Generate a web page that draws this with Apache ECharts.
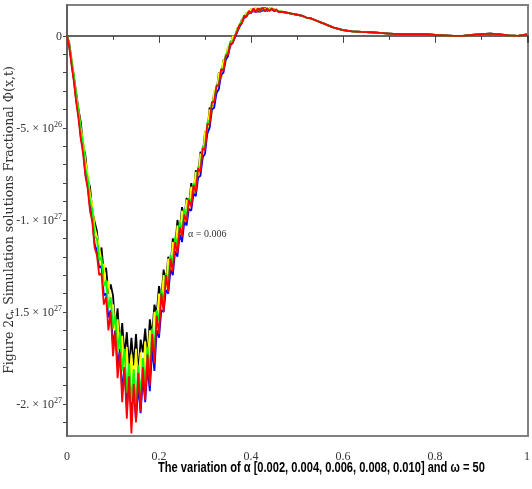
<!DOCTYPE html>
<html>
<head>
<meta charset="utf-8">
<script src="https://cdn.jsdelivr.net/npm/echarts@6/dist/echarts.min.js"></script>
<style>
  html, body { margin: 0; padding: 0; background: #fff; }
  #chart { width: 532px; height: 489px; }
</style>
</head>
<body>
<div id="chart"></div>
<script>
// values are in units of 1e26
const xs = [
  0, 0.005, 0.01, 0.015, 0.02, 0.025, 0.03, 0.035, 0.04, 0.045,
  0.05, 0.055, 0.06, 0.065, 0.07, 0.075, 0.08, 0.085, 0.09, 0.095,
  0.1, 0.105, 0.11, 0.115, 0.12, 0.125, 0.13, 0.135, 0.14, 0.145,
  0.15, 0.155, 0.16, 0.165, 0.17, 0.175, 0.18, 0.185, 0.19, 0.195,
  0.2, 0.205, 0.21, 0.215, 0.22, 0.225, 0.23, 0.235, 0.24, 0.245,
  0.25, 0.255, 0.26, 0.265, 0.27, 0.275, 0.28, 0.285, 0.29, 0.295,
  0.3, 0.305, 0.31, 0.315, 0.32, 0.325, 0.33, 0.335, 0.34, 0.345,
  0.35, 0.355, 0.36, 0.365, 0.37, 0.375, 0.38, 0.385, 0.39, 0.395,
  0.4, 0.405, 0.41, 0.415, 0.42, 0.425, 0.43, 0.435, 0.44, 0.445,
  0.45, 0.455, 0.46
]

const blackVals = [
  0, -0.4, -1.3, -2.2, -3.1, -4.0, -4.7, -5.9, -6.5, -7.8,
  -8.2, -9.5, -10.1, -10.6, -11.9, -11.5, -12.9, -12.6, -14.0, -13.5,
  -14.1, -15.9, -14.8, -16.9, -15.6, -17.4, -16.1, -18.0, -16.4, -17.9,
  -16.2, -18.4, -16.5, -17.2, -15.9, -17.6, -15.4, -16.3, -14.6, -15.1,
  -13.6, -14.3, -12.7, -13.4, -12.0, -12.6, -11.0, -11.6, -10.0, -10.6,
  -9.3, -9.9, -8.8, -9.3, -8.0, -8.6, -7.3, -7.6, -6.3, -6.5,
  -5.2, -5.3, -3.9, -4.1, -3.0, -3.1, -2.0, -2.3, -1.3, -1.4,
  -0.6, -0.6, 0.0, -0.1, 0.4, 0.5, 0.9, 0.9, 1.25, 1.2,
  1.45, 1.3, 1.5, 1.3, 1.5, 1.35, 1.55, 1.35, 1.5, 1.4,
  1.45, 1.35, 1.35
]

const yellowVals = [
  0, -0.5, -1.3, -2.3, -3.2, -4.1, -5.0, -5.7, -6.8, -7.5,
  -8.6, -9.2, -10.4, -10.9, -11.4, -12.5, -12.4, -13.9, -13.3, -14.8,
  -14.6, -16.2, -15.4, -17.5, -16.3, -18.5, -16.9, -19.2, -17.3, -19.0,
  -17.0, -18.9, -17.2, -18.6, -16.6, -17.9, -16.0, -16.9, -15.0, -15.6,
  -14.0, -14.6, -13.0, -13.7, -12.1, -12.8, -11.2, -11.9, -10.3, -10.9,
  -9.5, -10.1, -8.9, -9.4, -8.2, -8.5, -7.4, -7.8, -6.4, -6.8,
  -5.2, -5.4, -4.0, -4.3, -2.9, -3.2, -2.0, -2.3, -1.3, -1.5,
  -0.5, -0.7, 0.0, -0.1, 0.4, 0.4, 0.9, 0.9, 1.25, 1.2,
  1.45, 1.3, 1.5, 1.35, 1.45, 1.4, 1.5, 1.4, 1.5, 1.4,
  1.45, 1.35, 1.35
]

const blueVals = [
  0, -0.6, -1.5, -2.4, -3.5, -4.3, -5.5, -6.2, -7.5, -8.1,
  -9.3, -9.9, -11.3, -11.7, -12.6, -12.5, -14.1, -14.0, -15.3, -14.9,
  -16.8, -16.0, -18.0, -17.0, -19.3, -18.0, -20.2, -18.8, -20.6, -19.2,
  -20.9, -19.0, -20.5, -18.6, -19.9, -18.0, -19.3, -17.0, -18.2, -16.0,
  -16.4, -14.9, -15.0, -13.8, -14.0, -12.7, -13.0, -11.7, -12.0, -10.8,
  -11.2, -10.1, -10.3, -9.4, -9.5, -8.6, -8.7, -7.7, -7.6, -6.6,
  -6.4, -5.3, -5.0, -4.0, -3.9, -3.1, -2.9, -2.1, -2.0, -1.3,
  -1.1, -0.5, -0.4, -0.1, 0.2, 0.5, 0.7, 1.0, 1.05, 1.25,
  1.25, 1.4, 1.3, 1.4, 1.3, 1.45, 1.35, 1.45, 1.4, 1.45,
  1.35, 1.4, 1.3
]

const greenVals = [
  0, -0.5, -1.4, -2.2, -3.3, -4.1, -5.2, -5.8, -7.2, -7.7,
  -9.0, -9.4, -10.9, -11.0, -12.2, -12.0, -13.6, -13.3, -14.8, -14.2,
  -15.9, -15.2, -17.1, -16.1, -18.2, -17.0, -19.4, -17.8, -19.9, -18.1,
  -20.0, -17.9, -19.6, -17.5, -18.9, -16.9, -18.2, -15.9, -17.0, -14.9,
  -15.5, -13.8, -14.4, -12.9, -13.4, -11.9, -12.4, -10.9, -11.4, -10.1,
  -10.6, -9.4, -9.8, -8.8, -9.1, -8.0, -8.2, -7.1, -7.2, -6.0,
  -6.0, -4.7, -4.6, -3.6, -3.5, -2.7, -2.6, -1.8, -1.8, -1.0,
  -0.9, -0.3, -0.3, 0.0, 0.3, 0.6, 0.8, 1.1, 1.1, 1.3,
  1.3, 1.45, 1.35, 1.45, 1.35, 1.5, 1.4, 1.5, 1.4, 1.5,
  1.4, 1.4, 1.35
]

const redVals = [
  0, -0.6, -1.6, -2.5, -3.6, -4.5, -5.6, -6.4, -7.6, -8.3,
  -9.5, -10.1, -11.5, -11.9, -13.0, -12.9, -14.6, -14.2, -16.0, -15.0,
  -17.4, -16.1, -18.6, -17.2, -19.9, -18.0, -20.8, -18.5, -21.6, -18.9,
  -21.0, -18.3, -20.4, -18.0, -19.8, -17.3, -19.0, -16.2, -17.8, -15.2,
  -16.2, -14.0, -15.0, -13.0, -13.9, -12.1, -12.8, -11.2, -11.8, -10.4,
  -10.9, -9.7, -10.1, -8.9, -9.3, -8.1, -8.5, -7.2, -7.4, -6.1,
  -6.2, -4.8, -4.8, -3.6, -3.6, -2.7, -2.7, -1.8, -1.9, -1.1,
  -1.0, -0.4, -0.4, 0.0, 0.25, 0.6, 0.7, 1.1, 1.05, 1.35,
  1.25, 1.5, 1.3, 1.5, 1.35, 1.55, 1.35, 1.5, 1.35, 1.5,
  1.35, 1.45, 1.3
]

// smooth tail, same for every alpha
const tailT = [0.47, 0.48, 0.49, 0.5, 0.51, 0.52, 0.53, 0.54, 0.55, 0.56, 0.57, 0.58, 0.59, 0.6,
  0.62, 0.64, 0.66, 0.68, 0.7, 0.72, 0.74, 0.76, 0.78, 0.8, 0.82, 0.84, 0.86, 0.88, 0.9, 0.92,
  0.94, 0.96, 0.98, 1.0]
const tailV = [1.3, 1.25, 1.2, 1.15, 1.1, 1.0, 0.95, 0.85, 0.75, 0.65, 0.55, 0.45, 0.38, 0.32,
  0.25, 0.22, 0.2, 0.16, 0.13, 0.1, 0.1, 0.1, 0.1, 0.05, 0.03, 0, 0, 0.05, 0.1, 0.13,
  0.08, 0.03, 0, 0.08]

const seriesNames = ['α = 0.002', 'α = 0.004', 'α = 0.006', 'α = 0.008', 'α = 0.010']
const seriesColors = ['#000000', '#ffff00', '#0000ff', '#00ff00', '#ff0000']
const seriesVals = [blackVals, yellowVals, blueVals, greenVals, redVals]

const yLabelValues = [0, -5, -10, -15, -20]
const yLabelMant = ['0', '-5.', '-1.', '-1.5', '-2.']
const yLabelExp = ['', '26', '27', '27', '27']
const yTickValues = [0, -1, -2, -3, -4, -5, -6, -7, -8, -9, -10, -11, -12, -13, -14, -15,
  -16, -17, -18, -19, -20, -21]
const xLabels = { 0: '0', 0.2: '0.2', 0.4: '0.4', 0.6: '0.6', 0.8: '0.8', 1: '1' }

const chartDom = echarts.init(document.getElementById('chart'))

function buildData (vals) {
  const head = xs.map((t, i) => [t, vals[i]])
  const tail = tailT.map((t, i) => [t, tailV[i]])
  return head.concat(tail)
}

const series = seriesVals.map((vals, k) => {
  const s = {
    name: seriesNames[k],
    type: 'line',
    data: buildData(vals),
    showSymbol: false,
    symbol: 'none',
    lineStyle: { color: seriesColors[k], width: 1.8 },
    itemStyle: { color: seriesColors[k] },
    z: 2 + k
  }
  if (k === 4) {
    s.markPoint = {
      symbol: 'circle',
      symbolSize: 0,
      itemStyle: { color: 'transparent' },
      label: {
        show: true,
        position: 'right',
        distance: 0,
        formatter: 'α = 0.006',
        color: '#333',
        fontFamily: 'Liberation Serif',
        fontSize: 10
      },
      data: [{ coord: [0.263, -10.76] }]
    }
  }
  return s
})

const option = {
  animation: false,
  backgroundColor: '#fff',
  grid: {
    left: 67,
    right: 4,
    top: 5,
    bottom: 53,
    outerBoundsMode: 'none',
    containLabel: false,
    show: true,
    borderColor: '#808080',
    borderWidth: 2
  },
  xAxis: {
    type: 'value',
    min: 0,
    max: 1.002,
    interval: 0.2,
    axisLine: { show: true, lineStyle: { color: '#333', width: 1.5 } },
    axisTick: { show: true, length: 7, lineStyle: { color: '#444' } },
    minorTick: { show: true, splitNumber: 2, length: 4, lineStyle: { color: '#444' } },
    splitLine: { show: false },
    axisLabel: {
      margin: 15,
      color: '#333',
      fontFamily: 'Liberation Serif',
      fontSize: 12,
      formatter: (v) => {
        const key = Math.round(v * 10) / 10
        return xLabels[key] !== undefined ? xLabels[key] : ''
      }
    }
  },
  yAxis: {
    type: 'value',
    min: -21.74,
    max: 1.68,
    axisLine: { show: true, onZero: false, lineStyle: { color: '#555', width: 1.5 } },
    axisTick: {
      show: true,
      length: 4,
      customValues: yTickValues,
      lineStyle: { color: '#444' }
    },
    splitLine: { show: false },
    axisLabel: {
      margin: 5,
      customValues: yLabelValues,
      color: '#333',
      formatter: (v) => {
        const i = yLabelValues.indexOf(Math.round(v))
        if (i < 0) return ''
        if (!yLabelExp[i]) return '{b|' + yLabelMant[i] + '}'
        return '{b|' + yLabelMant[i] + ' × 10}{s|' + yLabelExp[i] + '}'
      },
      rich: {
        b: { fontFamily: 'Liberation Serif', fontSize: 12, color: '#333', lineHeight: 14, verticalAlign: 'bottom' },
        s: { fontFamily: 'Liberation Serif', fontSize: 8, color: '#333', lineHeight: 14, verticalAlign: 'top' }
      }
    }
  },
  graphic: [
    {
      type: 'text',
      x: 10,
      y: 220,
      rotation: Math.PI / 2,
      style: {
        text: 'Figure 2c. Simulation solutions Fractional Φ(x,t)',
        align: 'center',
        verticalAlign: 'middle',
        fontFamily: 'DejaVu Serif',
        fontSize: 12.5,
        fill: '#333'
      }
    },
    {
      type: 'text',
      left: 158,
      top: 460,
      scaleX: 0.74,
      style: {
        text: 'The variation of α [0.002, 0.004, 0.006, 0.008, 0.010] and ω = 50',
        fontFamily: 'Liberation Sans',
        fontWeight: 'bold',
        fontSize: 15,
        fill: '#000'
      }
    }
  ],
  series: series
}

option && chartDom.setOption(option)
</script>
</body>
</html>
